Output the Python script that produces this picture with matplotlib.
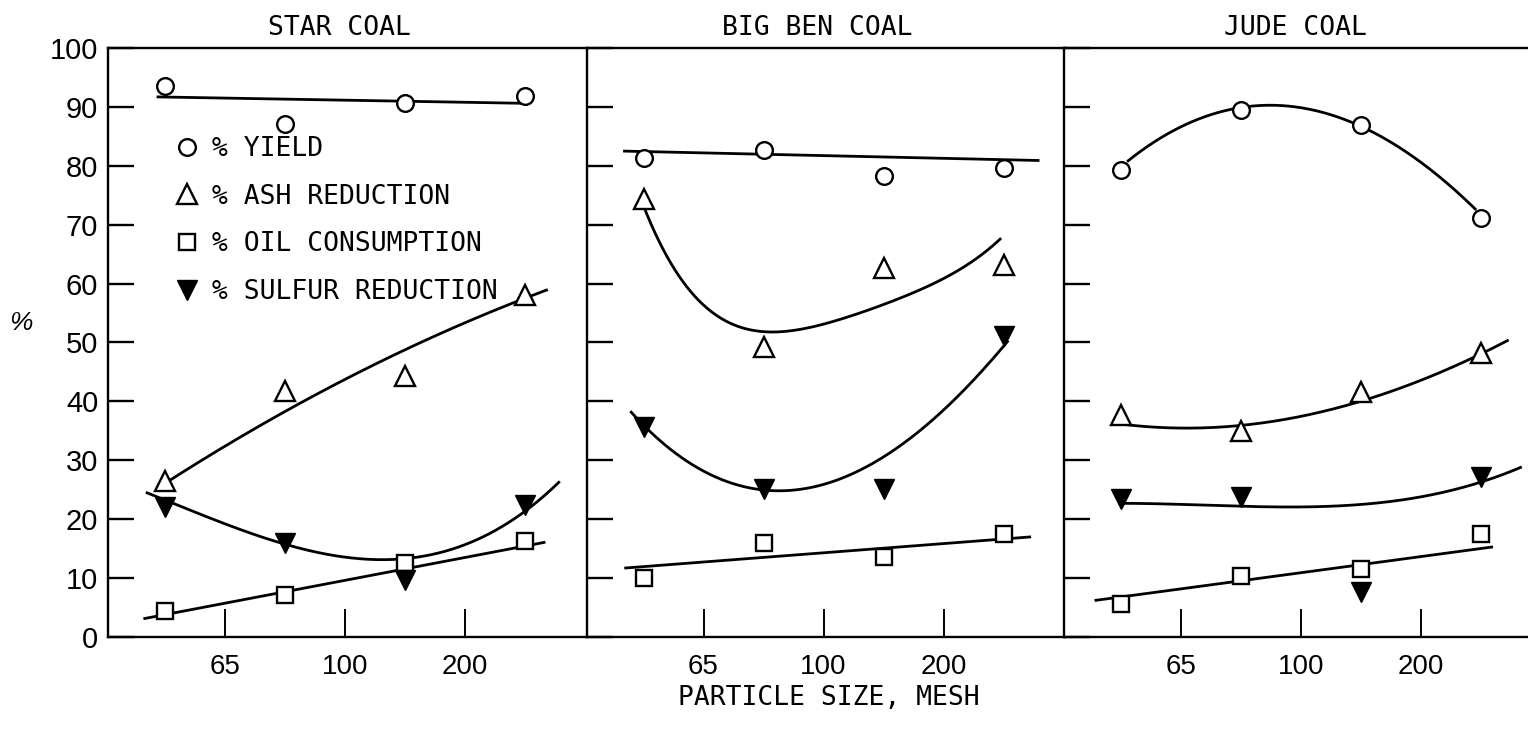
import matplotlib
matplotlib.use('Agg')
import matplotlib.pyplot as plt
from matplotlib.lines import Line2D
import numpy as np

MONO = ['DejaVu Sans Mono']
NARROW = ['Liberation Sans Narrow', 'Liberation Sans', 'DejaVu Sans']

# size fractions sit between the 65 / 100 / 200 mesh ticks
size_pos = [0.5, 1.5, 2.5, 3.5]
mesh_ticks = [1, 2, 3]
mesh_labels = ['65', '100', '200']
coals = ['STAR COAL', 'BIG BEN COAL', 'JUDE COAL']

# measured points (%)
star_yield = [93.6, 87.1, 90.7, 91.8]
star_ash = [26.5, 41.8, 44.3, 58.0]
star_oil = [4.4, 7.1, 12.6, 16.3]
star_sulfur = [22.1, 15.9, 9.6, 22.4]

bigben_yield = [81.4, 82.6, 78.3, 79.7]
bigben_ash = [74.4, 49.3, 62.6, 63.2]
bigben_oil = [10.0, 15.9, 13.6, 17.5]
bigben_sulfur = [35.7, 25.2, 25.2, 51.1]

jude_yield = [79.3, 89.5, 86.9, 71.1]
jude_ash = [37.7, 35.0, 41.6, 48.2]
jude_oil = [5.6, 10.4, 11.5, 17.5]
jude_sulfur = [23.5, 23.8, 7.7, 27.2]

# hand-drawn trend curves: (x, y, polynomial degree)
star_yield_fit = ([0.43, 3.52], [91.7, 90.6], 1)
star_ash_fit = ([0.47, 1.5, 2.31, 3.39, 3.69], [25.8, 38.0, 47.0, 57.1, 58.6], 2)
star_oil_fit = ([0.32, 3.67], [3.1, 16.1], 1)
star_sulfur_fit = ([0.34, 0.5, 1.5, 2.3, 2.5, 3.46, 3.79],
                   [24.7, 23.0, 16.2, 12.8, 13.0, 21.5, 26.0], 3)

bigben_yield_fit = ([0.33, 3.8], [82.5, 80.9], 1)
bigben_ash_fit = ([0.505, 0.72, 1.05, 1.525, 2.025, 2.58, 3.48],
                  [73.3, 62.9, 56.1, 51.8, 53.0, 57.2, 67.7], 4)
bigben_oil_fit = ([0.34, 3.73], [11.7, 17.0], 1)
bigben_sulfur_fit = ([0.39, 0.91, 1.47, 1.75, 2.16, 2.58, 3.14, 3.54],
                     [38.5, 28.9, 25.0, 25.0, 27.2, 32.0, 40.5, 50.7], 3)

jude_yield_fit = ([0.55, 1.5, 1.63, 2.51, 3.46], [80.7, 89.9, 90.2, 86.6, 72.5], 3)
jude_ash_fit = ([0.45, 1.075, 1.5, 2.5, 3.51, 3.73], [36.3, 35.4, 36.0, 40.0, 48.2, 50.4], 3)
jude_oil_fit = ([0.28, 3.6], [6.2, 15.3], 1)
jude_sulfur_fit = ([0.48, 1.46, 2.41, 3.52, 3.84], [22.7, 22.2, 22.4, 26.4, 28.9], 3)

panels = [
    (star_yield, star_ash, star_oil, star_sulfur,
     star_yield_fit, star_ash_fit, star_oil_fit, star_sulfur_fit),
    (bigben_yield, bigben_ash, bigben_oil, bigben_sulfur,
     bigben_yield_fit, bigben_ash_fit, bigben_oil_fit, bigben_sulfur_fit),
    (jude_yield, jude_ash, jude_oil, jude_sulfur,
     jude_yield_fit, jude_ash_fit, jude_oil_fit, jude_sulfur_fit),
]

W, H = 1528, 739
fig = plt.figure(figsize=(W / 100, H / 100), dpi=100, facecolor='white')

lefts = [108, 586.5, 1064]
pw, top_px, bot_px = 478, 48, 637

marker_style = [
    dict(marker='o', ms=12, mfc='white', mec='black', mew=1.7),
    dict(marker='^', ms=14, mfc='white', mec='black', mew=1.7),
    dict(marker='s', ms=11, mfc='white', mec='black', mew=1.7),
    dict(marker='v', ms=14, mfc='black', mec='black', mew=1.0),
]

axes = []
for i, (left, panel) in enumerate(zip(lefts, panels)):
    ax = fig.add_axes([left / W, (H - bot_px) / H, pw / W, (bot_px - top_px) / H])
    ax.set_xlim(0.025, 0.025 + pw / 120)
    ax.set_ylim(0, 100)
    for side in ['top', 'bottom', 'left']:
        ax.spines[side].set_linewidth(1.7)
    ax.spines['right'].set_visible(False)

    ax.set_xticks(mesh_ticks)
    ax.set_xticklabels(mesh_labels)
    ax.set_yticks(range(0, 101, 10))
    ax.tick_params(axis='x', direction='in', length=20, width=1.4, pad=12,
                   labelsize=20, labelfontfamily=NARROW)
    ax.tick_params(axis='y', direction='in', length=19, width=1.7, pad=7,
                   labelsize=21, labelfontfamily=NARROW)
    if i > 0:
        ax.tick_params(axis='y', labelleft=False)

    series = panel[:4]
    fits = panel[4:]
    for fit in fits:
        cx, cy, deg = fit
        coef = np.polyfit(cx, cy, deg)
        xs = np.linspace(min(cx), max(cx), 200)
        ax.plot(xs, np.polyval(coef, xs), color='black', lw=2.0, zorder=2,
                solid_capstyle='butt')
    for vals, st in zip(series, marker_style):
        ax.plot(size_pos, vals, ls='none', zorder=3, **st)

    # coal name above each panel
    fig.text((left + pw / 2 - 8) / W, 1 - 28 / H, coals[i], ha='center',
             va='center', fontsize=19, family=MONO)
    axes.append(ax)

handles = [Line2D([], [], ls='none', **st) for st in marker_style]
labels = ['% YIELD', '% ASH REDUCTION', '% OIL CONSUMPTION', '% SULFUR REDUCTION']
leg = axes[0].legend(handles, labels, loc='upper left',
                     bbox_to_anchor=(175 / W, 1 - 136 / H),
                     bbox_transform=fig.transFigure, frameon=False,
                     prop={'family': MONO, 'size': 19}, handlelength=0.9,
                     handletextpad=0.5, labelspacing=0.82, borderpad=0,
                     borderaxespad=0)

fig.text(21 / W, 1 - 323 / H, '%', ha='center', va='center', fontsize=19,
         style='italic', family=NARROW)
fig.text(829 / W, 1 - 698 / H, 'PARTICLE SIZE, MESH', ha='center', va='center',
         fontsize=19, family=MONO)

fig.savefig('out.png', dpi=100, facecolor='white')
